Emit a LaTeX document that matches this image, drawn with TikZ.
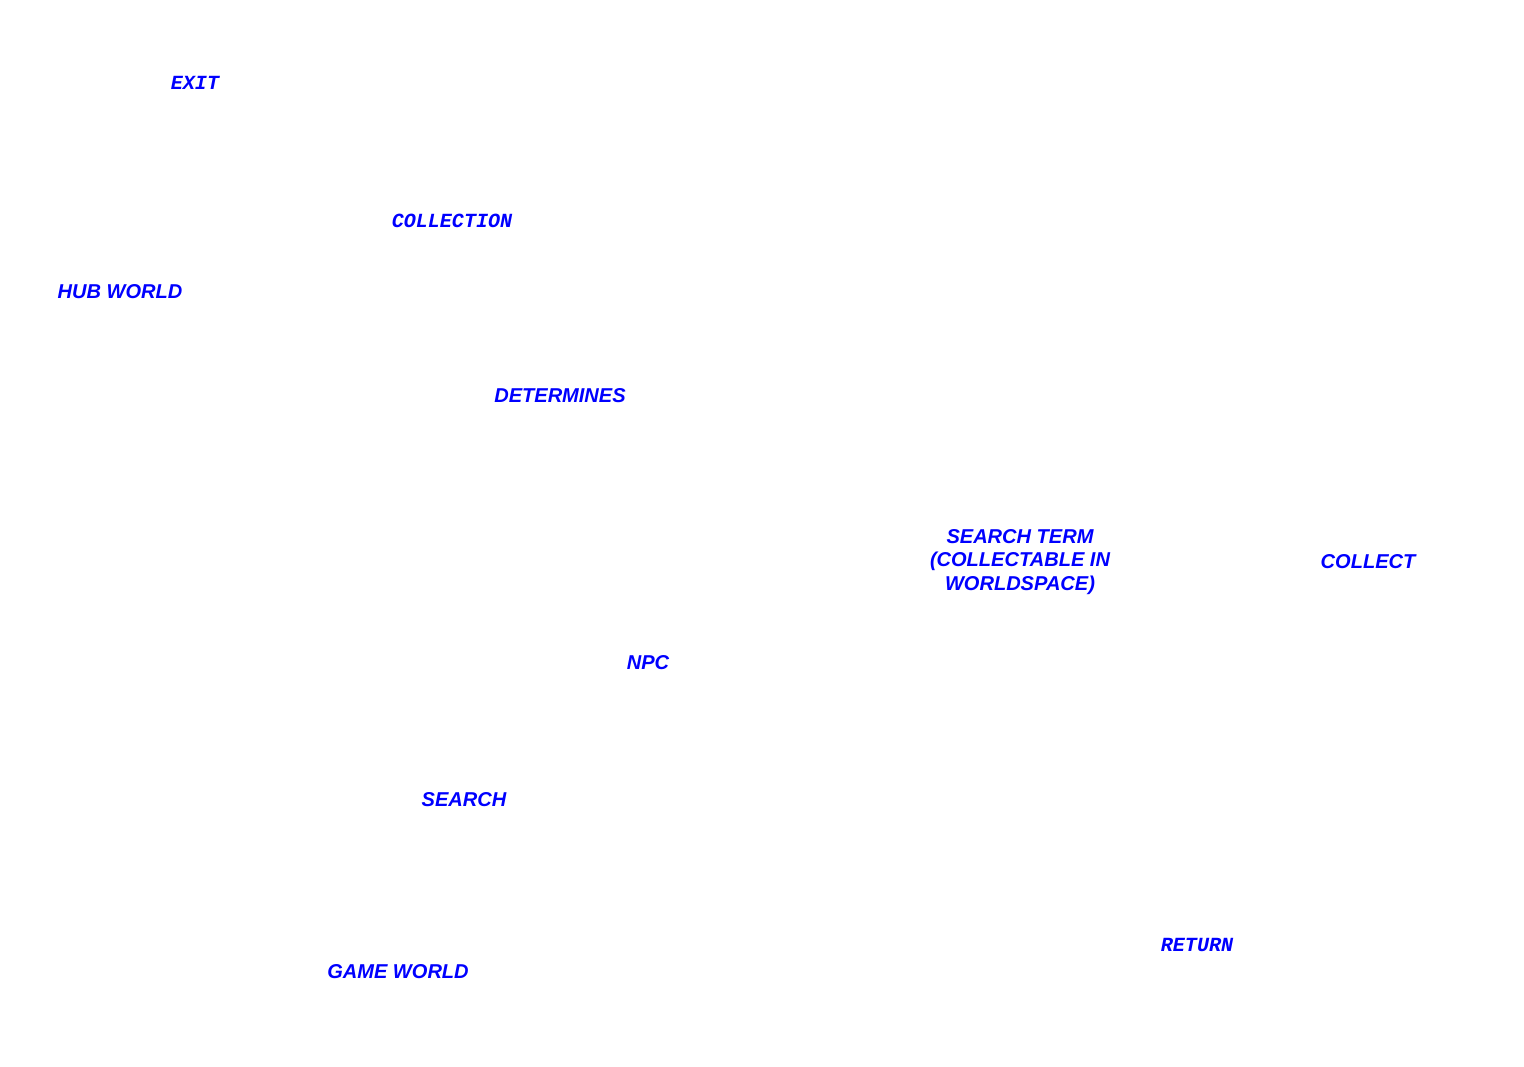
\documentclass[tikz,border=0pt]{standalone}
\usepackage{fontspec}
\setmainfont{Liberation Sans}
\newfontfamily\monofont{Liberation Mono}
\usetikzlibrary{positioning}

\begin{document}
\begin{tikzpicture}[
    x=0.01cm, y=-0.01cm,
    every node/.style={text=blue, inner sep=0pt},
    lbl/.style={font=\fontsize{5.7}{6.8}\selectfont\bfseries\itshape, align=center},
    mono/.style={font=\fontsize{5.7}{6.8}\selectfont\monofont\bfseries\itshape},
]
    \useasboundingbox (0,0) rectangle (1524,1066);

    % Hub side
    \node[mono] (exit) at (195,83) {EXIT};
    \node[mono] (collection) at (452,221) {COLLECTION};
    \node[lbl] (hub) at (120,292) {HUB WORLD};
    \node[lbl] (determines) at (560,396) {DETERMINES};

    % Search loop
    \node[lbl] (term) at (1020,562) {SEARCH TERM\\(COLLECTABLE IN\\WORLDSPACE)};
    \node[lbl] (collect) at (1368,562) {COLLECT};
    \node[lbl] (npc) at (648,663) {NPC};
    \node[lbl] (search) at (464,800) {SEARCH};
    \node[mono] (return) at (1197,945) {RETURN};
    \node[lbl] (game) at (398,972) {GAME WORLD};
\end{tikzpicture}
\end{document}
